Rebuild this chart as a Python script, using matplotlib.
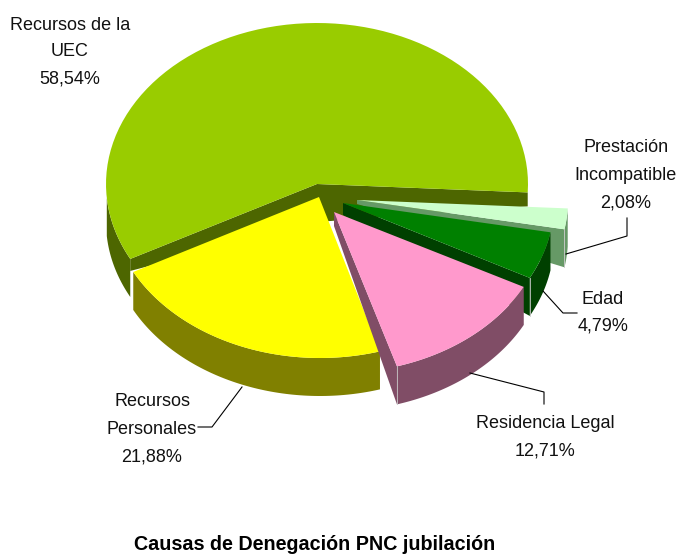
import numpy as np
import matplotlib
matplotlib.use('Agg')
import matplotlib.pyplot as plt
from matplotlib.patches import Polygon

# slices, counter clockwise from the right hand side
names = ['Recursos de la\nUEC', 'Recursos\nPersonales', 'Residencia Legal',
         'Edad', 'Prestación\nIncompatible']
values = [58.54, 21.88, 12.71, 4.79, 2.08]
top_colors = ['#99CC00', '#FFFF00', '#FF99CC', '#008000', '#CCFFCC']
side_colors = ['#4D6600', '#808000', '#804D66', '#004000', '#669966']

title = 'Causas de Denegación PNC jubilación'

# apex of every slice on the image, the explosion of the pie
apex_x = [317, 319, 334, 343, 357]
apex_y = [184, 197, 212, 203, 200]
apex_depth = [38, 38, 14, 12, 4]
rim_shift = [0, 1, 3, 0, 0]

RX = 211
RY = 161
DEPTH = 38
START = 3  # first slice begins a little below horizontal

label_x = [70, 152, 545, 603, 626]
label_y = [[25, 52, 79], [402, 430, 457], [424, 451], [299, 326], [148, 175, 203]]
leaders = [None,
           [(242, 387), (212, 427), (198, 427)],
           [(470, 373), (544, 392), (544, 404)],
           [(543, 291), (563, 313), (577, 313)],
           [(566, 254), (627, 236), (627, 218)]]

FONT = ['Liberation Sans', 'DejaVu Sans']


def rim(idx, a_from, a_to, n=80):
    '''Points of the outer edge of slice idx between two angles (degrees)'''
    ang = np.radians(np.linspace(a_from, a_to, n))
    return (apex_x[idx] + rim_shift[idx] + RX * np.cos(ang),
            apex_y[idx] - RY * np.sin(ang))


def draw_slice(axis, idx, a_from, a_to):
    '''Angles go counter clockwise, a_from < a_to'''
    top, side = top_colors[idx], side_colors[idx]
    xr, yr = rim(idx, a_from, a_to)
    apex = (apex_x[idx], apex_y[idx])

    if idx == 0:
        # big slice: inner walls get thin at the rim, outer wall only on the left
        axis.add_patch(Polygon([apex, (xr[0], yr[0]), (xr[0], yr[0] + 14),
                                (apex[0], apex[1] + DEPTH)], color=side, lw=0))
        axis.add_patch(Polygon([apex, (xr[-1], yr[-1]), (xr[-1], yr[-1] + 12),
                                (apex[0], apex[1] + DEPTH)], color=side, lw=0))
        xo, yo = rim(idx, 185, a_to)
    else:
        xo, yo = xr, yr
    outer = list(zip(xo, yo)) + list(zip(xo[::-1], yo[::-1] + DEPTH))
    axis.add_patch(Polygon(outer, color=side, lw=0))

    if idx > 1:
        # wall along the cut is visible on the exploded small slices
        axis.add_patch(Polygon([apex, (xr[0], yr[0]), (xr[0], yr[0] + DEPTH),
                                (apex[0], apex[1] + apex_depth[idx])],
                               color=side, lw=0))
        axis.plot([xr[0], xr[0]], [yr[0], yr[0] + DEPTH], color='#C8C8C8', lw=0.6)

    axis.add_patch(Polygon([apex] + list(zip(xr, yr)), color=top, lw=0))


fig = plt.figure(figsize=(6.79, 5.56), dpi=100)
ax = fig.add_axes([0, 0, 1, 1])
ax.set_xlim(0, 679)
ax.set_ylim(556, 0)
ax.axis('off')

total = sum(values)
# back to front, the small slices overlap each other
for i in [0, 1, 4, 3, 2]:
    a0 = -START + 360 * sum(values[:i]) / total
    a1 = -START + 360 * sum(values[:i + 1]) / total
    draw_slice(ax, i, a0, a1)

for i, name in enumerate(names):
    text = name.split('\n') + [f'{values[i]:.2f}'.replace('.', ',') + '%']
    for line, ypos in zip(text, label_y[i]):
        ax.text(label_x[i], ypos, line, ha='center', va='center', fontsize=13,
                family=FONT, color='#111111')
    if leaders[i]:
        ax.plot(*zip(*leaders[i]), color='black', lw=0.8)

ax.text(315, 545, title, ha='center', va='center', fontsize=14.2,
        fontweight='bold', family=FONT, color='black')

fig.savefig('out.png', dpi=100)
